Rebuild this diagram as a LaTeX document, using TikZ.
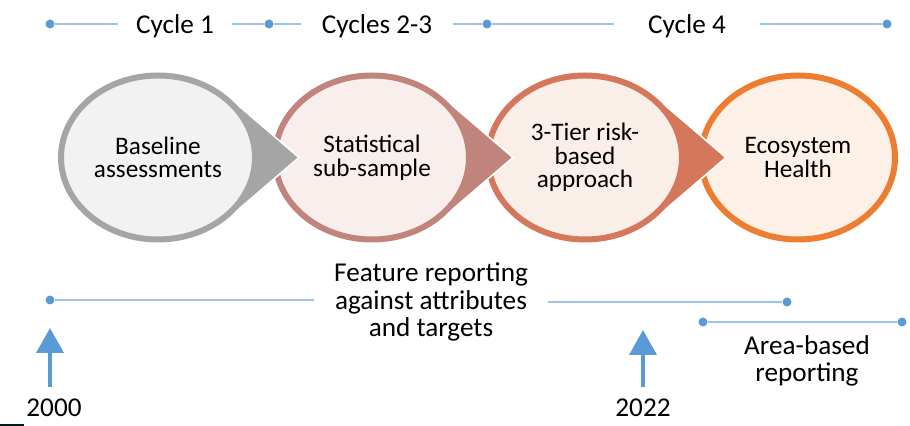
\documentclass[tikz,border=0pt]{standalone}
\usepackage{fontspec}
\setmainfont{Carlito}
\usetikzlibrary{shapes.geometric,arrows.meta}
\definecolor{tlblue}{HTML}{5B9BD5}
\definecolor{tlline}{HTML}{9DC3E6}
\definecolor{ringA}{HTML}{A5A5A5}
\definecolor{fillA}{HTML}{F2F2F2}
\definecolor{ringB}{HTML}{C0847C}
\definecolor{fillB}{HTML}{F8EEEB}
\definecolor{ringC}{HTML}{D4775A}
\definecolor{fillC}{HTML}{FAEEE8}
\definecolor{ringD}{HTML}{ED7D31}
\definecolor{fillD}{HTML}{FDF0E7}

\begin{document}
\begin{tikzpicture}[
    x=0.5pt,y=-0.5pt,
    dot/.style={circle, fill=tlblue, inner sep=0pt, minimum size=4.5pt},
    tline/.style={tlline, line width=0.6pt},
    label/.style={font=\fontsize{13.6}{13.75}\selectfont, align=center, inner sep=0pt},
    stage/.style={ellipse, line width=3pt, minimum width=97pt, minimum height=82pt, inner sep=0pt, align=center, font=\fontsize{12.6}{11.8}\selectfont},
    tear/.style={draw=white, line width=0.8pt},
    uparrow/.style={tlblue, line width=2pt, -{Triangle[width=13.5pt,length=12.5pt]}}
    ]
    \useasboundingbox (0,0) rectangle (910,426);

    \node[dot] (d1) at (50,24) {};
    \node[dot] (d2) at (269,24) {};
    \node[dot] (d3) at (487,24) {};
    \node[dot] (d4) at (887,24) {};
    \node[label, inner xsep=9pt] (cy1) at (175,26) {Cycle 1};
    \node[label, inner xsep=10pt] (cy23) at (377,26) {Cycles 2-3};
    \node[label, inner xsep=17pt] (cy4) at (687,26) {Cycle 4};
    \draw[tline] (d1.east) -- (d1.east -| cy1.west);
    \draw[tline] (d2.west -| cy1.east) -- (d2.west);
    \draw[tline] (d2.east) -- (d2.east -| cy23.west);
    \draw[tline] (d3.west -| cy23.east) -- (d3.west);
    \draw[tline] (d3.east) -- (d3.east -| cy4.west);
    \draw[tline] (d4.west -| cy4.east) -- (d4.west);

    \node[stage, draw=ringD, fill=fillD] (c4) at (798,157.5) {Ecosystem\\Health};
    \path[fill=ringC, tear] (656,97.5) -- (726,157.5) -- (656,217.5) -- cycle;
    \node[stage, draw=ringC, fill=fillC] (c3) at (585,157.5) {3-Tier risk-\\based\\approach};
    \path[fill=ringB, tear] (443,97.5) -- (513,157.5) -- (443,217.5) -- cycle;
    \node[stage, draw=ringB, fill=fillB] (c2) at (372,157.5) {Statistical\\sub-sample};
    \path[fill=ringA, tear] (229,97.5) -- (299,157.5) -- (229,217.5) -- cycle;
    \node[stage, draw=ringA, fill=fillA] (c1) at (158,157.5) {Baseline\\assessments};

    \node[dot] (d5) at (50,300) {};
    \node[dot] (d6) at (787,302) {};
    \node[label, inner xsep=10pt] (fr) at (431,302) {Feature reporting\\against attributes\\and targets};
    \draw[tline] (d5.east) -- (d5.east -| fr.west);
    \draw[tline] (d6.west -| fr.east) -- (d6.west);

    \node[dot] (d7) at (703,322) {};
    \node[dot] (d8) at (902,322) {};
    \draw[tline] (d7) -- (d8);
    \node[label] (ab) at (807,361) {Area-based\\reporting};

    \node[label, inner ysep=6pt] (y2000) at (54,408) {2000};
    \coordinate (t2000) at (50,328);
    \draw[uparrow] (y2000.north -| t2000) -- (t2000);
    \node[label, inner ysep=6pt] (y2022) at (643,408) {2022};
    \coordinate (t2022) at (643,330);
    \draw[uparrow] (y2022.north -| t2022) -- (t2022);

    \draw[black!80!teal, line width=1pt] (0,425) -- (24,425);
  \end{tikzpicture}
\end{document}
